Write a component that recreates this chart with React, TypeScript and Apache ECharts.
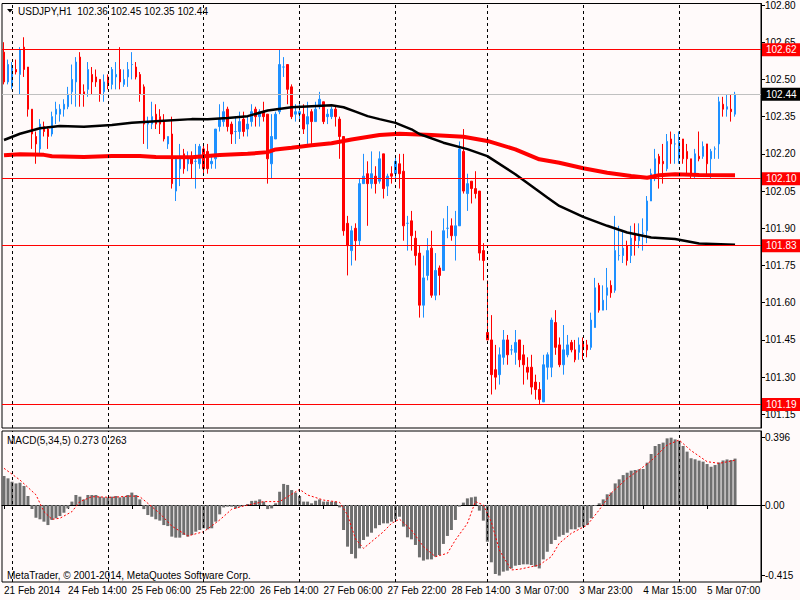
import React, { useEffect, useRef } from "react";
import * as echarts from "echarts";

// Trading sessions (day label, first hour, end hour exclusive) -> one H1 bar per hour
const SESSIONS: [string, number, number][] = [
  ["21 Feb", 22, 24], ["24 Feb", 0, 24], ["25 Feb", 0, 24], ["26 Feb", 0, 24],
  ["27 Feb", 0, 24], ["28 Feb", 0, 23], ["3 Mar", 0, 24], ["4 Mar", 0, 24], ["5 Mar", 0, 15],
];

const OPEN = [
  102.61,102.49,102.47,102.54,102.52,102.63,102.55,102.38,102.27,102.22,
  102.31,102.30,102.28,102.36,102.36,102.38,102.39,102.45,102.49,102.59,
  102.45,102.46,102.52,102.51,102.50,102.45,102.51,102.48,102.51,102.54,
  102.48,102.51,102.56,102.55,102.52,102.47,102.32,102.32,102.36,102.35,
  102.33,102.24,102.28,102.05,102.14,102.20,102.16,102.19,102.17,102.16,
  102.22,102.21,102.16,102.18,102.31,102.33,102.38,102.32,102.29,102.29,
  102.34,102.30,102.33,102.38,102.35,102.37,102.36,102.16,102.26,102.37,
  102.55,102.56,102.47,102.36,102.36,102.36,102.32,102.37,102.33,102.39,
  102.41,102.35,102.35,102.38,102.34,102.27,101.92,101.81,101.90,101.85,
  102.08,102.12,102.08,102.11,102.09,102.20,102.07,102.12,102.12,102.16,
  102.13,101.92,101.93,101.86,101.80,101.59,101.71,101.82,101.63,101.74,
  101.73,101.90,101.91,101.87,101.91,102.21,102.04,102.09,102.06,102.05,
  101.81,101.48,101.45,101.33,101.31,101.38,101.45,101.41,101.40,101.45,
  101.39,101.34,101.34,101.28,101.25,101.20,101.34,101.34,101.52,101.43,
  101.35,101.39,101.44,101.41,101.40,101.44,101.43,101.42,101.50,101.67,
  101.57,101.63,101.67,101.65,101.79,101.79,101.83,101.79,101.88,101.85,
  101.88,101.89,102.01,102.10,102.19,102.17,102.14,102.26,102.24,102.18,
  102.26,102.21,102.18,102.12,102.19,102.19,102.24,102.18,102.22,102.24,
  102.40,102.38,102.38,102.36,
];
const CLOSE = [
  102.49,102.56,102.55,102.53,102.62,102.54,102.38,102.28,102.24,102.32,
  102.29,102.27,102.35,102.38,102.38,102.40,102.44,102.50,102.57,102.44,
  102.44,102.54,102.49,102.49,102.44,102.49,102.48,102.54,102.52,102.49,
  102.50,102.54,102.56,102.51,102.44,102.32,102.33,102.35,102.32,102.32,
  102.26,102.27,102.08,102.18,102.19,102.14,102.19,102.16,102.17,102.23,
  102.14,102.14,102.17,102.30,102.34,102.37,102.31,102.28,102.29,102.33,
  102.29,102.32,102.37,102.35,102.37,102.35,102.18,102.27,102.36,102.56,
  102.55,102.46,102.35,102.37,102.37,102.30,102.35,102.33,102.38,102.42,
  102.33,102.36,102.38,102.35,102.27,101.89,101.83,101.89,101.85,102.08,
  102.11,102.08,102.12,102.08,102.18,102.06,102.11,102.11,102.17,102.12,
  101.91,101.92,101.87,101.79,101.59,101.70,101.81,101.63,101.73,101.71,
  101.89,101.90,101.87,101.91,102.22,102.05,102.08,102.06,102.04,101.80,
  101.77,101.45,101.31,101.30,101.39,101.45,101.39,101.41,101.44,101.37,
  101.35,101.32,101.26,101.25,101.21,101.35,101.39,101.53,101.42,101.35,
  101.41,101.43,101.41,101.37,101.43,101.41,101.41,101.53,101.66,101.57,
  101.61,101.66,101.64,101.81,101.79,101.82,101.77,101.86,101.85,101.87,
  101.88,102.01,102.12,102.18,102.16,102.16,102.25,102.24,102.24,102.25,
  102.18,102.18,102.12,102.20,102.18,102.23,102.16,102.21,102.22,102.41,
  102.38,102.39,102.37,102.44,
];
const LOW = [
  102.48,102.48,102.46,102.52,102.44,102.51,102.35,102.22,102.16,102.20,
  102.27,102.22,102.27,102.32,102.33,102.35,102.38,102.40,102.39,102.39,
  102.39,102.43,102.44,102.47,102.41,102.41,102.46,102.46,102.46,102.46,
  102.47,102.47,102.50,102.50,102.41,102.24,102.22,102.30,102.30,102.28,
  102.25,102.22,102.06,102.01,102.07,102.12,102.13,102.10,102.06,102.14,
  102.12,102.12,102.14,102.14,102.29,102.31,102.29,102.24,102.24,102.26,
  102.27,102.27,102.31,102.31,102.31,102.33,102.08,102.10,102.26,102.36,
  102.51,102.40,102.34,102.33,102.33,102.28,102.24,102.24,102.33,102.38,
  102.32,102.32,102.34,102.31,102.18,101.87,101.71,101.75,101.77,101.83,
  102.08,101.91,102.06,102.04,102.08,102.02,102.03,102.08,102.10,102.06,
  101.85,101.81,101.81,101.75,101.54,101.54,101.69,101.62,101.61,101.63,
  101.73,101.86,101.85,101.77,101.91,102.04,101.97,102.00,102.02,101.77,
  101.69,101.45,101.23,101.25,101.27,101.35,101.35,101.39,101.35,101.34,
  101.27,101.29,101.23,101.21,101.19,101.20,101.29,101.30,101.39,101.34,
  101.31,101.38,101.40,101.36,101.37,101.37,101.38,101.41,101.50,101.56,
  101.57,101.57,101.62,101.64,101.77,101.76,101.75,101.76,101.79,101.82,
  101.81,101.84,102.01,102.09,102.06,102.08,102.13,102.16,102.16,102.16,
  102.16,102.12,102.10,102.10,102.17,102.18,102.11,102.10,102.18,102.18,
  102.35,102.35,102.33,102.35,
];
const HIGH = [
  102.65,102.58,102.57,102.58,102.63,102.67,102.55,102.38,102.29,102.34,
  102.33,102.31,102.37,102.41,102.40,102.42,102.47,102.56,102.59,102.61,
  102.48,102.57,102.55,102.54,102.50,102.52,102.52,102.55,102.57,102.63,
  102.54,102.57,102.61,102.57,102.53,102.48,102.35,102.41,102.40,102.38,
  102.36,102.27,102.35,102.19,102.24,102.22,102.21,102.21,102.24,102.24,
  102.24,102.24,102.19,102.30,102.40,102.41,102.39,102.33,102.35,102.37,
  102.37,102.35,102.40,102.39,102.38,102.41,102.36,102.36,102.37,102.62,
  102.59,102.56,102.48,102.40,102.40,102.40,102.41,102.38,102.41,102.45,
  102.41,102.38,102.39,102.39,102.35,102.27,101.95,101.91,101.92,102.10,
  102.20,102.17,102.21,102.15,102.21,102.20,102.12,102.15,102.19,102.20,
  102.20,101.95,101.97,101.89,101.83,101.79,101.86,101.89,101.80,101.75,
  101.94,101.99,101.94,101.97,102.25,102.30,102.12,102.09,102.13,102.05,
  101.84,101.69,101.55,101.43,101.42,101.49,101.47,101.43,101.49,101.45,
  101.43,101.38,101.39,101.31,101.28,101.39,101.40,101.54,101.57,101.46,
  101.51,101.47,101.45,101.45,101.46,101.46,101.45,101.56,101.70,101.68,
  101.67,101.74,101.69,101.95,101.91,101.89,101.85,101.91,101.92,101.92,
  101.94,102.03,102.14,102.22,102.20,102.24,102.28,102.29,102.28,102.29,
  102.26,102.24,102.18,102.22,102.29,102.25,102.24,102.22,102.23,102.43,
  102.43,102.44,102.44,102.45,
];

const MA_BLACK_IDX = [0,4,9,14,20,27,32,39,47,51,56,61,66,72,77,82,85,88,91,94,98,102,104,110,116,121,128,133,136,139,145,151,156,162,168,174,183];
const MA_BLACK_VAL = [102.256,102.281,102.303,102.312,102.309,102.316,102.325,102.332,102.340,102.339,102.345,102.352,102.375,102.388,102.392,102.396,102.388,102.370,102.352,102.340,102.325,102.299,102.280,102.245,102.219,102.191,102.118,102.059,102.024,101.990,101.946,101.910,101.883,101.863,101.857,101.839,101.834];
const MA_RED_IDX = [0,4,10,12,20,27,34,38,47,54,61,66,68,72,77,82,87,94,99,107,115,121,128,134,139,145,151,157,161,164,168,174,183];
const MA_RED_VAL = [102.194,102.198,102.196,102.190,102.187,102.191,102.191,102.187,102.186,102.195,102.200,102.207,102.218,102.225,102.235,102.243,102.258,102.276,102.281,102.276,102.269,102.252,102.218,102.178,102.164,102.142,102.124,102.111,102.104,102.114,102.118,102.115,102.114];

const MACD = [
  0.171,0.157,0.137,0.127,0.131,0.112,0.053,-0.024,-0.075,-0.084,
  -0.098,-0.118,-0.088,-0.078,-0.065,-0.045,-0.020,0.020,0.059,0.049,
  0.033,0.059,0.059,0.059,0.049,0.045,0.045,0.049,0.053,0.045,
  0.049,0.059,0.073,0.059,0.033,-0.024,-0.059,-0.069,-0.084,-0.092,
  -0.118,-0.124,-0.186,-0.192,-0.192,-0.176,-0.186,-0.176,-0.157,-0.147,
  -0.137,-0.143,-0.137,-0.098,-0.055,-0.014,-0.010,-0.010,-0.020,-0.010,
  -0.006,0.006,0.024,0.025,0.033,0.020,-0.024,-0.020,0.010,0.078,
  0.124,0.118,0.088,0.073,0.053,0.020,0.020,0.010,0.025,0.033,
  0.020,0.020,0.020,0.020,-0.014,-0.147,-0.245,-0.288,-0.314,-0.255,
  -0.206,-0.186,-0.163,-0.137,-0.118,-0.108,-0.108,-0.098,-0.084,-0.069,
  -0.127,-0.190,-0.202,-0.235,-0.308,-0.327,-0.320,-0.320,-0.304,-0.294,
  -0.229,-0.182,-0.147,-0.088,-0.010,0.014,0.039,0.045,0.049,-0.033,
  -0.092,-0.216,-0.337,-0.406,-0.415,-0.392,-0.386,-0.373,-0.357,-0.353,
  -0.349,-0.349,-0.353,-0.363,-0.373,-0.320,-0.275,-0.229,-0.206,-0.186,
  -0.176,-0.163,-0.143,-0.143,-0.131,-0.127,-0.118,-0.078,-0.006,0.010,
  0.033,0.063,0.073,0.127,0.151,0.176,0.190,0.202,0.206,0.210,
  0.212,0.249,0.300,0.347,0.359,0.367,0.392,0.396,0.386,0.378,
  0.347,0.314,0.275,0.269,0.261,0.255,0.241,0.225,0.235,0.250,
  0.262,0.268,0.265,0.273,
];
const SIGNAL_IDX = [0,4,8,10,12,14,17,19,22,27,32,34,36,39,42,46,50,54,57,60,65,69,71,74,76,80,84,86,88,90,92,95,97,99,102,105,108,111,113,116,118,120,122,124,127,129,134,137,139,142,146,149,152,156,159,162,166,169,172,176,179,183];
const SIGNAL_VAL = [0.216,0.147,0.060,-0.039,-0.084,-0.078,-0.039,0.020,0.049,0.045,0.053,0.049,0.010,-0.049,-0.124,-0.182,-0.157,-0.088,-0.025,-0.006,0.020,0.020,0.049,0.092,0.059,0.029,0.016,-0.059,-0.200,-0.255,-0.216,-0.157,-0.108,-0.083,-0.147,-0.245,-0.304,-0.284,-0.206,-0.108,0.020,0.000,-0.100,-0.265,-0.382,-0.378,-0.353,-0.304,-0.225,-0.167,-0.118,-0.029,0.070,0.157,0.206,0.260,0.353,0.382,0.320,0.255,0.245,0.263];

const LEVELS = [102.62, 102.10, 101.83, 101.19];
const PRICE_TICKS = [101.15,101.30,101.45,101.60,101.75,101.90,102.05,102.20,102.35,102.50,102.65,102.80];
const MACD_TICKS = [-0.415, 0, 0.396];
const SYMBOL = "USDJPY,H1";

const FONT = "'Liberation Sans', Arial, sans-serif";
const BG = "#FFFAFA";
const UP = "#1E90FF";
const DOWN = "#FF0000";

function buildAxis() {
  const cats: string[] = [];
  const dayStarts: number[] = [];
  SESSIONS.forEach(([day, from, to]) => {
    for (let h = from; h < to; h++) {
      if (h === 0 && cats.length > 0) dayStarts.push(cats.length);
      cats.push(cats.length === 0 ? `${day} 2014` : `${day} ${String(h).padStart(2, "0")}:00`);
    }
  });
  const n = cats.length;
  for (let k = 0; k < 6; k++) cats.push(`pad${k}`);
  return { cats, dayStarts, n };
}

export default function App() {
  const ref = useRef<HTMLDivElement>(null);
  useEffect(() => {
    if (!ref.current) return;
    const chart = echarts.init(ref.current, undefined, { renderer: "svg" });
    const { cats, dayStarts, n } = buildAxis();
    const labelInterval = (i: number) => i < n && i % 16 === 0;
    const last = n - 1;
    const candles = OPEN.map((o, i) => [o, CLOSE[i], LOW[i], HIGH[i]]);
    const zip = (a: number[], b: number[]) => a.map((x, i) => [x, b[i]]);
    const sep = dayStarts.map((d) => ({
      xAxis: d,
      lineStyle: { color: "#000", type: [3, 3], width: 1 },
      label: { show: false },
    }));
    const priceLine = (v: number, color: string, bg: string) => ({
      yAxis: v,
      lineStyle: { color, width: 1, type: "solid" },
      label: {
        show: true, position: "end", formatter: v.toFixed(2), color: "#fff",
        backgroundColor: bg, padding: [2, 4, 1, 4], distance: 1, fontSize: 10, fontFamily: FONT,
      },
    });
    const axisText = { fontSize: 10, color: "#000", fontFamily: FONT };
    const option = {
      animation: false,
      backgroundColor: BG,
      textStyle: { fontFamily: FONT },
      grid: [
        { left: 2, top: 2, width: 759, height: 426, show: true, borderColor: "#000", borderWidth: 1, backgroundColor: BG },
        { left: 2, top: 431, width: 759, height: 151, show: true, borderColor: "#000", borderWidth: 1, backgroundColor: BG },
      ],
      xAxis: [
        {
          type: "category", gridIndex: 0, data: cats, boundaryGap: true,
          axisLine: { show: false }, axisTick: { show: false }, axisLabel: { show: false }, splitLine: { show: false },
        },
        {
          type: "category", gridIndex: 1, data: cats, boundaryGap: true,
          axisLine: { show: true, lineStyle: { color: "#000" } },
          axisTick: { show: true, alignWithLabel: true, interval: labelInterval, length: 4, lineStyle: { color: "#000" } },
          axisLabel: { interval: labelInterval, align: "left", margin: 3, ...axisText },
          splitLine: { show: false },
        },
      ],
      yAxis: [
        {
          type: "value", gridIndex: 0, position: "right", min: 101.095, max: 102.806,
          axisLine: { show: true, lineStyle: { color: "#000" } },
          axisTick: { show: true, length: 4, customValues: PRICE_TICKS, lineStyle: { color: "#000" } },
          axisLabel: { customValues: PRICE_TICKS, formatter: (v: number) => v.toFixed(2), margin: 4, ...axisText },
          splitLine: { show: false },
        },
        {
          type: "value", gridIndex: 1, position: "right", min: -0.4529, max: 0.4353,
          axisLine: { show: true, lineStyle: { color: "#000" } },
          axisTick: { show: true, length: 4, customValues: MACD_TICKS, lineStyle: { color: "#000" } },
          axisLabel: {
            customValues: MACD_TICKS, formatter: (v: number) => (v === 0 ? "0.00" : v.toFixed(3)), margin: 4, ...axisText,
          },
          splitLine: { show: false },
        },
      ],
      series: [
        {
          type: "candlestick", xAxisIndex: 0, yAxisIndex: 0, data: candles, barWidth: 2,
          itemStyle: { color: UP, color0: DOWN, borderColor: UP, borderColor0: DOWN, borderColorDoji: UP, borderWidth: 1 },
          markLine: {
            silent: true, symbol: ["none", "none"], animation: false,
            data: [
              ...sep,
              ...LEVELS.map((v) => priceLine(v, "#FF0000", "#FF0000")),
              priceLine(CLOSE[last], "#C0C0C0", "#000000"),
            ],
          },
        },
        {
          type: "line", xAxisIndex: 0, yAxisIndex: 0, data: zip(MA_RED_IDX, MA_RED_VAL),
          symbol: "none", lineStyle: { color: "#FF0000", width: 4 }, z: 3,
        },
        {
          type: "line", xAxisIndex: 0, yAxisIndex: 0, data: zip(MA_BLACK_IDX, MA_BLACK_VAL),
          symbol: "none", lineStyle: { color: "#000000", width: 2.5 }, z: 3,
        },
        {
          type: "bar", xAxisIndex: 1, yAxisIndex: 1, data: MACD, barWidth: 3,
          itemStyle: { color: "#6F6F6F" },
          markLine: { silent: true, symbol: ["none", "none"], animation: false, data: sep },
        },
        {
          type: "line", xAxisIndex: 1, yAxisIndex: 1, data: zip(SIGNAL_IDX, SIGNAL_VAL),
          symbol: "none", lineStyle: { color: "#FF0000", width: 1, type: [2, 2] }, z: 3,
        },
      ],
      graphic: [
        { type: "polygon", shape: { points: [[7, 9], [13, 9], [10, 12.5]] }, style: { fill: "#000" }, z: 100 },
        {
          type: "text", x: 18, y: 11, z: 100,
          style: {
            text: `${SYMBOL}  ${OPEN[last].toFixed(2)} ${HIGH[last].toFixed(2)} ${LOW[last].toFixed(2)} ${CLOSE[last].toFixed(2)}`,
            fill: "#000", fontSize: 10, fontFamily: FONT, verticalAlign: "middle",
          },
        },
        {
          type: "text", x: 7, y: 440, z: 100,
          style: {
            text: `MACD(5,34,5) ${MACD[last].toFixed(3)} ${SIGNAL_VAL[SIGNAL_VAL.length - 1].toFixed(3)}`,
            fill: "#000", fontSize: 10, fontFamily: FONT, verticalAlign: "middle",
          },
        },
        {
          type: "text", x: 7, y: 575, z: 100,
          style: {
            text: "MetaTrader, © 2001-2014, MetaQuotes Software Corp.",
            fill: "#000", fontSize: 10, fontFamily: FONT, verticalAlign: "middle",
          },
        },
      ],
    };
    chart.setOption(option as any);
    return () => chart.dispose();
  }, []);
  return <div ref={ref} style={{ position: "fixed", left: 0, top: 0, width: 800, height: 600, background: BG }} />;
}
